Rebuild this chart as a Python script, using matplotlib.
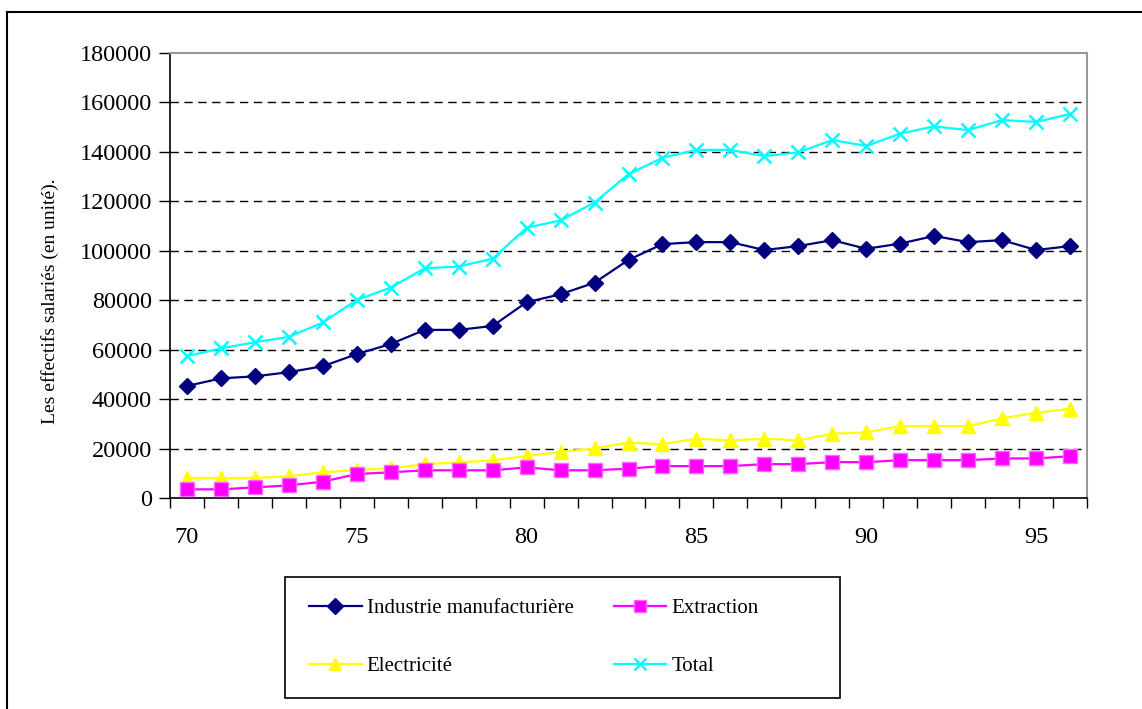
import matplotlib
matplotlib.use("Agg")
import matplotlib.pyplot as plt
from matplotlib.lines import Line2D
from matplotlib.patches import Rectangle
import numpy as np

years = ["70", "71", "72", "73", "74", "75", "76", "77", "78", "79", "80", "81", "82", "83",
         "84", "85", "86", "87", "88", "89", "90", "91", "92", "93", "94", "95", "96"]
industrie = [45300, 48400, 49200, 50900, 53300, 58200, 62300, 68000, 68000, 69600, 79200,
             82400, 87100, 96300, 102700, 103500, 103500, 100300, 101900, 104300, 100800,
             102900, 106000, 103500, 104300, 100300, 101900]
extraction = [3500, 3500, 4300, 5100, 6600, 9700, 10400, 11200, 11200, 11200, 12400,
              11200, 11200, 11900, 12900, 12900, 12900, 13700, 13700, 14500, 14500,
              15300, 15300, 15300, 16000, 16000, 16900]
electricite = [8100, 8100, 8100, 8800, 10400, 11300, 12000, 13700, 14400, 15200, 17000,
               18600, 20100, 22400, 21800, 24000, 23300, 24000, 23300, 26000, 26500,
               29100, 29100, 29100, 32200, 34500, 36100]
total = [57400, 60500, 63000, 65200, 71000, 80100, 85100, 92900, 93600, 96800, 109300,
         112300, 119500, 131000, 137600, 140800, 140800, 138300, 139800, 144800, 142400,
         147400, 150300, 148800, 152900, 152100, 155300]
series_names = ["Industrie manufacturière", "Extraction", "Electricité", "Total"]
y_ticks = list(range(0, 180001, 20000))
x_label_years = ["70", "75", "80", "85", "90", "95"]
ylabel = "Les effectifs salariés (en unité)."

W, H = 1142, 709
plt.rcParams["font.family"] = ["Liberation Serif", "DejaVu Serif"]
fig = plt.figure(figsize=(W / 100, H / 100), dpi=100)

L, R, T, B = 170, 1087, 53, 498
ax = fig.add_axes([L / W, 1 - B / H, (R - L) / W, (B - T) / H])

x = np.arange(len(years))
ax.plot(x, industrie, color="#000080", lw=1.6, marker="D", ms=8.5, mfc="#000080",
        mec="#000080", label=series_names[0], zorder=4)
ax.plot(x, extraction, color="#FF00FF", lw=1.6, marker="s", ms=10, mfc="#FF00FF",
        mec="#FF66FF", label=series_names[1], zorder=3)
ax.plot(x, electricite, color="#FFFF00", lw=1.6, marker="^", ms=10, mfc="#FFFF00",
        mec="#FFFF00", label=series_names[2], zorder=2)
ax.plot(x, total, color="#00FFFF", lw=1.6, marker="x", ms=10, mew=1.8,
        mec="#00FFFF", label=series_names[3], zorder=5)

ax.set_xlim(-0.5, len(years) - 0.5)
ax.set_ylim(0, 180000)
ax.set_yticks(y_ticks)
ax.set_yticklabels([str(v) for v in y_ticks], fontsize=17.5)
ax.tick_params(axis="y", direction="out", length=8, width=1, pad=5)

lab_pos = [years.index(s) for s in x_label_years]
ax.set_xticks(lab_pos)
ax.set_xticklabels(x_label_years, fontsize=17.5)
ax.set_xticks(np.arange(-0.5, len(years)), minor=True)
ax.tick_params(axis="x", which="major", length=0, pad=21)
ax.tick_params(axis="x", which="minor", direction="out", length=7, width=1)

for yv in y_ticks[1:-1]:
    ax.axhline(yv, color="black", lw=1, ls=(0, (6, 4)), zorder=1)

ax.spines["left"].set_color("black")
ax.spines["bottom"].set_color("black")
ax.spines["left"].set_linewidth(1.2)
ax.spines["bottom"].set_linewidth(1.2)
ax.spines["top"].set_color("#999999")
ax.spines["right"].set_color("#999999")
ax.spines["top"].set_linewidth(1.5)
ax.spines["right"].set_linewidth(1.5)

fig.text(50 / W, 1 - 301 / H, ylabel, rotation=90, ha="center", va="center", fontsize=14)

# outer border
fig.add_artist(Line2D([7 / W, 7 / W], [1 - 12 / H, -0.01], transform=fig.transFigure,
                      color="black", lw=1.5))
fig.add_artist(Line2D([7 / W, 1.01], [1 - 12 / H, 1 - 12 / H], transform=fig.transFigure,
                      color="black", lw=1.5))

# legend box
fig.add_artist(Rectangle((285 / W, 1 - 698 / H), (840 - 285) / W, (698 - 577) / H,
                         transform=fig.transFigure, fill=False, ec="black", lw=1.2))
handles, labels = ax.get_legend_handles_labels()
order = [0, 2, 1, 3]
leg = fig.legend([handles[i] for i in order], [labels[i] for i in order],
                 loc="upper left", bbox_to_anchor=(299 / W, 1 - 588 / H), ncol=2,
                 frameon=False, fontsize=15, borderpad=0, handlelength=2.5,
                 handletextpad=0.25, labelspacing=1.85, columnspacing=1.95,
                 markerscale=0.9)

fig.savefig("out.png", dpi=100)
